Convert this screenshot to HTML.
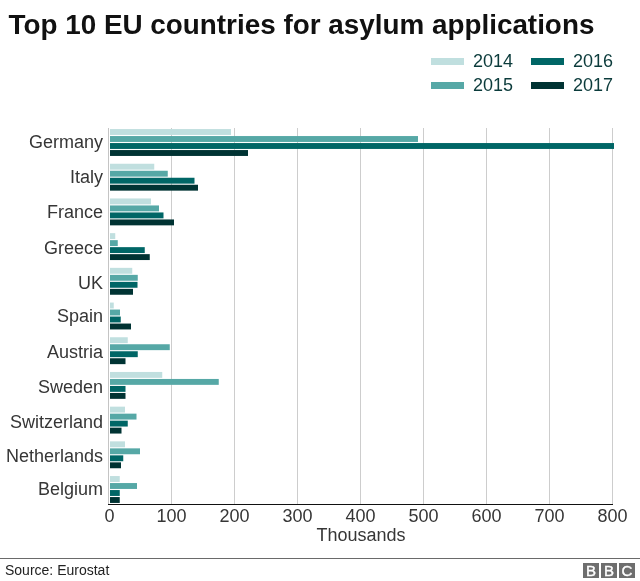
<!DOCTYPE html>
<html lang="en"><head><meta charset="utf-8"><title>Top 10 EU countries for asylum applications</title>
<style>
html,body{margin:0;padding:0;background:#fff;}
body{width:640px;height:581px;position:relative;overflow:hidden;font-family:"Liberation Sans",sans-serif;color:#363636;}
.a{position:absolute;white-space:nowrap;}
h1{position:absolute;left:8.5px;top:9px;margin:0;font-size:27.85px;line-height:32px;font-weight:bold;color:#111;white-space:nowrap;letter-spacing:0;}
.g{position:absolute;top:128px;width:1px;height:376px;background:#cdcdcd;}
svg{position:absolute;left:0;top:0;}
.c{position:absolute;right:537px;font-size:18px;line-height:20px;white-space:nowrap;text-align:right;}
.t{position:absolute;top:506px;width:60px;margin-left:-30px;text-align:center;font-size:18px;line-height:20px;}
.sw{position:absolute;width:33px;height:7px;}
.lg{position:absolute;font-size:18px;line-height:20px;color:#0b3b3b;}
.bb{position:absolute;top:563px;width:16px;height:15px;background:#6e6e6e;color:#fff;font-size:15px;line-height:15px;text-align:center;-webkit-text-stroke:0.4px #fff;}
</style></head><body>
<h1>Top 10 EU countries for asylum applications</h1>
<div class="sw" style="left:431px;top:58px;background:#c0dfdf"></div><div class="lg" style="left:473px;top:51px">2014</div>
<div class="sw" style="left:431px;top:82px;background:#56a8a6"></div><div class="lg" style="left:473px;top:75px">2015</div>
<div class="sw" style="left:531px;top:58px;background:#006666"></div><div class="lg" style="left:573px;top:51px">2016</div>
<div class="sw" style="left:531px;top:82px;background:#003333"></div><div class="lg" style="left:573px;top:75px">2017</div>
<div class="g" style="left:171px"></div><div class="g" style="left:234px"></div><div class="g" style="left:297px"></div><div class="g" style="left:360px"></div><div class="g" style="left:423px"></div><div class="g" style="left:486px"></div><div class="g" style="left:549px"></div><div class="g" style="left:612px"></div>
<div class="g" style="left:108px;background:#c4c4c4"></div>
<svg width="640" height="581" viewBox="0 0 640 581">
<rect x="110" y="129.05" width="121" height="5.9" fill="#c0dfdf"/><rect x="110" y="136.05" width="308" height="5.9" fill="#56a8a6"/><rect x="110" y="143.05" width="504" height="5.9" fill="#006666"/><rect x="110" y="150.05" width="138" height="5.9" fill="#003333"/>
<rect x="110" y="163.75" width="44.25" height="5.9" fill="#c0dfdf"/><rect x="110" y="170.75" width="57.75" height="5.9" fill="#56a8a6"/><rect x="110" y="177.75" width="84.5" height="5.9" fill="#006666"/><rect x="110" y="184.75" width="88" height="5.9" fill="#003333"/>
<rect x="110" y="198.45" width="41" height="5.9" fill="#c0dfdf"/><rect x="110" y="205.45" width="49" height="5.9" fill="#56a8a6"/><rect x="110" y="212.45" width="53.5" height="5.9" fill="#006666"/><rect x="110" y="219.45" width="64" height="5.9" fill="#003333"/>
<rect x="110" y="233.15" width="5.25" height="5.9" fill="#c0dfdf"/><rect x="110" y="240.15" width="7.75" height="5.9" fill="#56a8a6"/><rect x="110" y="247.15" width="34.75" height="5.9" fill="#006666"/><rect x="110" y="254.15" width="39.75" height="5.9" fill="#003333"/>
<rect x="110" y="267.85" width="22.25" height="5.9" fill="#c0dfdf"/><rect x="110" y="274.85" width="27.75" height="5.9" fill="#56a8a6"/><rect x="110" y="281.85" width="27.5" height="5.9" fill="#006666"/><rect x="110" y="288.85" width="23" height="5.9" fill="#003333"/>
<rect x="110" y="302.55" width="3.75" height="5.9" fill="#c0dfdf"/><rect x="110" y="309.55" width="10" height="5.9" fill="#56a8a6"/><rect x="110" y="316.55" width="10.75" height="5.9" fill="#006666"/><rect x="110" y="323.55" width="21" height="5.9" fill="#003333"/>
<rect x="110" y="337.25" width="17.75" height="5.9" fill="#c0dfdf"/><rect x="110" y="344.25" width="59.75" height="5.9" fill="#56a8a6"/><rect x="110" y="351.25" width="27.75" height="5.9" fill="#006666"/><rect x="110" y="358.25" width="15.5" height="5.9" fill="#003333"/>
<rect x="110" y="371.95" width="52.25" height="5.9" fill="#c0dfdf"/><rect x="110" y="378.95" width="108.75" height="5.9" fill="#56a8a6"/><rect x="110" y="385.95" width="15.5" height="5.9" fill="#006666"/><rect x="110" y="392.95" width="15.5" height="5.9" fill="#003333"/>
<rect x="110" y="406.65" width="15" height="5.9" fill="#c0dfdf"/><rect x="110" y="413.65" width="26.5" height="5.9" fill="#56a8a6"/><rect x="110" y="420.65" width="17.75" height="5.9" fill="#006666"/><rect x="110" y="427.65" width="11.5" height="5.9" fill="#003333"/>
<rect x="110" y="441.35" width="15" height="5.9" fill="#c0dfdf"/><rect x="110" y="448.35" width="30" height="5.9" fill="#56a8a6"/><rect x="110" y="455.35" width="13.25" height="5.9" fill="#006666"/><rect x="110" y="462.35" width="11" height="5.9" fill="#003333"/>
<rect x="110" y="476.05" width="9.75" height="5.9" fill="#c0dfdf"/><rect x="110" y="483.05" width="27" height="5.9" fill="#56a8a6"/><rect x="110" y="490.05" width="9.75" height="5.9" fill="#006666"/><rect x="110" y="497.05" width="9.75" height="5.9" fill="#003333"/>
</svg>
<div class="c" style="top:132px">Germany</div><div class="c" style="top:167px">Italy</div><div class="c" style="top:202px">France</div><div class="c" style="top:238px">Greece</div><div class="c" style="top:273px">UK</div><div class="c" style="top:306px">Spain</div><div class="c" style="top:342px">Austria</div><div class="c" style="top:377px">Sweden</div><div class="c" style="top:412px">Switzerland</div><div class="c" style="top:446px">Netherlands</div><div class="c" style="top:479px">Belgium</div>
<div class="a" style="left:108px;top:504px;width:505px;height:1px;background:#111"></div>
<div class="t" style="left:109.5px">0</div><div class="t" style="left:171.5px">100</div><div class="t" style="left:234.5px">200</div><div class="t" style="left:297.5px">300</div><div class="t" style="left:360.5px">400</div><div class="t" style="left:423.5px">500</div><div class="t" style="left:486.5px">600</div><div class="t" style="left:549.5px">700</div><div class="t" style="left:612.5px">800</div>
<div class="a" style="left:260px;width:202px;top:525px;text-align:center;font-size:18px;line-height:20px">Thousands</div>
<div class="a" style="left:0;top:558px;width:640px;height:1px;background:#6a6a6a"></div>
<div class="a" style="left:5px;top:561px;font-size:14px;line-height:18px;color:#222">Source: Eurostat</div>
<div class="bb" style="left:583px">B</div><div class="bb" style="left:601px">B</div><div class="bb" style="left:619px">C</div>
</body></html>
